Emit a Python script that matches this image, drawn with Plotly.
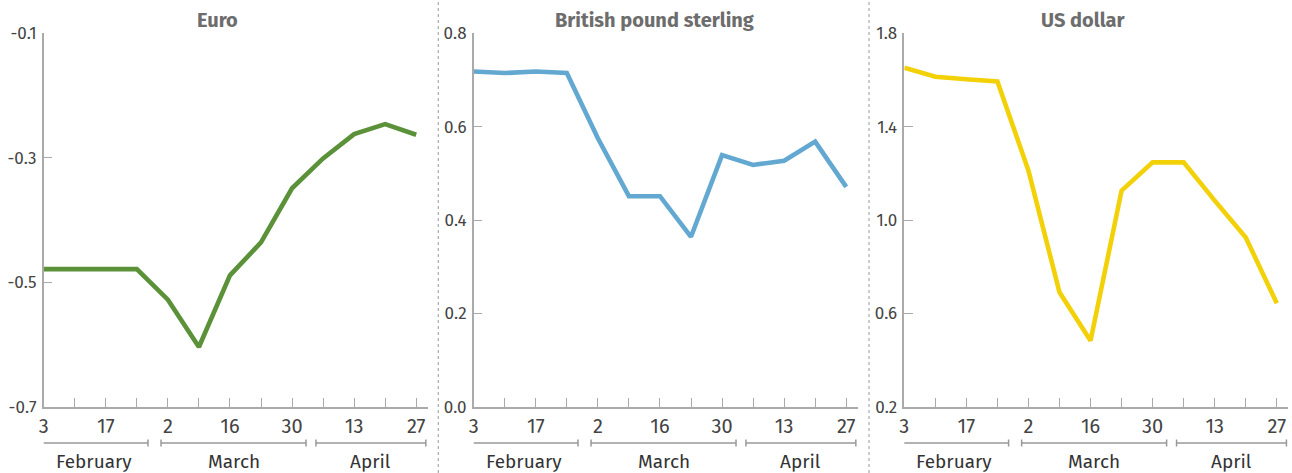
import plotly.graph_objects as go

# ---------------- data ----------------
week_idx = list(range(13))  # weekly observations: Feb 3 ... Apr 27
tick_labels = ["3", "", "17", "", "2", "", "16", "", "30", "", "13", "", "27"]
months = ["February", "March", "April"]

euro = [-0.479, -0.479, -0.479, -0.479, -0.528, -0.604, -0.489, -0.436,
        -0.349, -0.301, -0.262, -0.246, -0.263]
gbp = [0.718, 0.715, 0.718, 0.715, 0.575, 0.451, 0.451, 0.364,
       0.539, 0.518, 0.527, 0.568, 0.471]
usd = [1.653, 1.614, 1.603, 1.594, 1.211, 0.690, 0.483, 1.126,
       1.247, 1.247, 1.083, 0.925, 0.643]

titles = ["Euro", "British pound sterling", "US dollar"]
series = [euro, gbp, usd]
colors = ["#5b9138", "#63a8d1", "#f3d108"]
y_ranges = [[-0.7, -0.1], [0.0, 0.8], [0.2, 1.8]]
y_ticks = [[-0.7, -0.5, -0.3, -0.1], [0.0, 0.2, 0.4, 0.6, 0.8],
           [0.2, 0.6, 1.0, 1.4, 1.8]]
y_ticktext = [["-0.7", "-0.5", "-0.3", "-0.1"], ["0.0", "0.2", "0.4", "0.6", "0.8"],
              ["0.2", "0.6", "1.0", "1.4", "1.8"]]

# ---------------- layout geometry ----------------
W, H = 1292, 473
FONT = "Fira Sans, Lato, Roboto, sans-serif"
axis_left_px = [43.7, 473.7, 904.3]
axis_len_px = 384.0
x_range = [0, 12.37]
y_top_px, y_bot_px = 33.3, 406.7
ydom = [1 - y_bot_px / H, 1 - y_top_px / H]
title_center_px = [217.5, 654.5, 1083.7]
month_spans = [(-0.15, 3.36), (3.78, 8.45), (8.77, 12.31)]
dividers_px = [438.3, 869.0]

fig = go.Figure()
layout = dict(
    width=W, height=H, margin=dict(l=0, r=0, t=0, b=0, autoexpand=False),
    paper_bgcolor="white", plot_bgcolor="white", showlegend=False,
    font=dict(family=FONT, color="#444444"),
)
shapes = []
annotations = []

for i in range(3):
    xa = "x" if i == 0 else f"x{i+1}"
    ya = "y" if i == 0 else f"y{i+1}"
    fig.add_trace(go.Scatter(
        x=week_idx, y=series[i], mode="lines",
        line=dict(color=colors[i], width=4.6),
        xaxis=xa, yaxis=ya, hoverinfo="skip", cliponaxis=False))
    x0 = axis_left_px[i] / W
    x1 = (axis_left_px[i] + axis_len_px) / W
    layout["xaxis" if i == 0 else f"xaxis{i+1}"] = dict(
        domain=[x0, x1], range=x_range, anchor=ya, automargin=False,
        showgrid=False, zeroline=False, showline=True,
        linecolor="#aaaaaa", linewidth=1.5,
        ticks="inside", ticklen=9, tickwidth=1.2, tickcolor="#aaaaaa",
        tickvals=week_idx, ticktext=tick_labels,
        tickfont=dict(family=FONT, size=20, color="#444444"),
        ticklabelstandoff=1,
    )
    layout["yaxis" if i == 0 else f"yaxis{i+1}"] = dict(
        domain=ydom, range=y_ranges[i], anchor=xa, automargin=False,
        showgrid=False, zeroline=False, showline=True,
        linecolor="#aaaaaa", linewidth=1.5,
        ticks="inside", ticklen=9, tickwidth=1.2, tickcolor="#aaaaaa",
        tickvals=y_ticks[i], ticktext=y_ticktext[i],
        tickfont=dict(family=FONT, size=17, color="#444444"),
        ticklabelstandoff=2,
    )
    # panel title
    annotations.append(dict(
        x=title_center_px[i] / W, y=1 - 20 / H, xref="paper", yref="paper",
        text=f"<b>{titles[i]}</b>", showarrow=False,
        font=dict(family=FONT, size=20, color="#6d6d6d"),
        xanchor="center", yanchor="middle"))
    # month brackets
    yb = 1 - 443 / H
    for (a, b), m in zip(month_spans, months):
        shapes.append(dict(type="line", xref=xa, yref="paper", x0=a, x1=b,
                           y0=yb, y1=yb, line=dict(color="#999999", width=1.5)))
        for e in (a, b):
            shapes.append(dict(type="line", xref=xa, yref="paper", x0=e, x1=e,
                               y0=yb - 3.5 / H, y1=yb + 3.5 / H,
                               line=dict(color="#999999", width=1.5)))
        annotations.append(dict(
            x=(a + b) / 2, y=1 - 461 / H, xref=xa, yref="paper", text=m,
            showarrow=False, xanchor="center", yanchor="middle",
            font=dict(family=FONT, size=19, color="#333333")))

for d in dividers_px:
    shapes.append(dict(type="line", xref="paper", yref="paper",
                       x0=d / W, x1=d / W, y0=0, y1=1,
                       line=dict(color="#aaaaaa", width=1.2, dash="3px,3px")))

layout["shapes"] = shapes
layout["annotations"] = annotations
fig.update_layout(**layout)
fig.write_html(
    "out.html",
    config={"displayModeBar": False},
    post_script="document.body.style.margin='0';document.body.style.overflow='hidden';",
)
